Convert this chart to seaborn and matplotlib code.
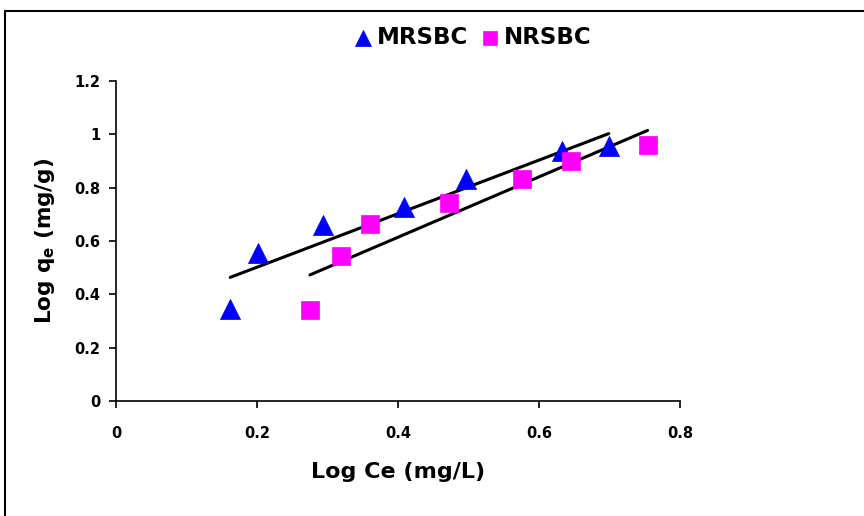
import numpy as np
import pandas as pd
import matplotlib
matplotlib.use("Agg")
import matplotlib.pyplot as plt
import seaborn as sns
from matplotlib.patches import Rectangle

# Data
mr_x = [0.162, 0.202, 0.293, 0.409, 0.497, 0.633, 0.699]
mr_y = [0.346, 0.556, 0.660, 0.727, 0.831, 0.937, 0.956]
nr_x = [0.275, 0.319, 0.360, 0.473, 0.576, 0.645, 0.754]
nr_y = [0.341, 0.544, 0.662, 0.741, 0.834, 0.899, 0.959]
series = ["MRSBC", "NRSBC"]
x_ticks = [0, 0.2, 0.4, 0.6, 0.8]
y_ticks = [0, 0.2, 0.4, 0.6, 0.8, 1.0, 1.2]
x_tick_labels = ["0", "0.2", "0.4", "0.6", "0.8"]
y_tick_labels = ["0", "0.2", "0.4", "0.6", "0.8", "1", "1.2"]

df = pd.DataFrame({
    "x": mr_x + nr_x,
    "y": mr_y + nr_y,
    "series": [series[0]] * len(mr_x) + [series[1]] * len(nr_x),
})

sns.set_style("ticks")
plt.rcParams["font.family"] = ["DejaVu Sans"]
plt.rcParams["font.weight"] = "bold"
plt.rcParams["mathtext.default"] = "regular"
plt.rcParams["text.color"] = "black"
plt.rcParams["axes.labelcolor"] = "black"
plt.rcParams["xtick.color"] = "black"
plt.rcParams["ytick.color"] = "black"

fig = plt.figure(figsize=(8.64, 5.16), dpi=100)
ax = fig.add_axes([116 / 864, 1 - 401 / 516, (680 - 116) / 864, (401 - 81) / 516])

# trendlines (linear regression over each series' data range)
for s in series:
    sub = df[df.series == s]
    sns.regplot(data=sub, x="x", y="y", scatter=False, ci=None, ax=ax,
                truncate=True, line_kws={"color": "black", "lw": 2.2, "zorder": 3})

palette = {"MRSBC": "#0000FF", "NRSBC": "#FF00FF"}
markers = {"MRSBC": "^", "NRSBC": "s"}
sizes_map = {"MRSBC": 210, "NRSBC": 150}
for s in series:
    sub = df[df.series == s]
    sns.scatterplot(data=sub, x="x", y="y", color=palette[s], marker=markers[s],
                    s=sizes_map[s], edgecolor=palette[s], linewidth=0.5, ax=ax,
                    label=s, zorder=4)

ax.set_xlim(0, 0.8)
ax.set_ylim(0, 1.2)
ax.set_xticks(x_ticks)
ax.set_xticklabels(x_tick_labels)
ax.set_yticks(y_ticks)
ax.set_yticklabels(y_tick_labels)
ax.tick_params(axis="both", direction="out", length=5, width=1.2, color="black",
               labelsize=10.5, labelcolor="black")
ax.tick_params(axis="x", pad=13)
ax.tick_params(axis="y", pad=6)
for lab in ax.get_xticklabels() + ax.get_yticklabels():
    lab.set_fontweight("bold")

sns.despine(ax=ax)
for sp in ["left", "bottom"]:
    ax.spines[sp].set_linewidth(1.2)
    ax.spines[sp].set_color("black")

ax.set_xlabel("Log Ce (mg/L)", fontsize=16, fontweight="bold", labelpad=15, color="black")
ax.set_ylabel(r"Log q$_\mathbf{e}$ (mg/g)", fontsize=15.5, fontweight="bold", labelpad=13,
              color="black")

handles, labels = ax.get_legend_handles_labels()
leg = fig.legend(handles, labels, loc="center", bbox_to_anchor=(472 / 864, 1 - 38 / 516),
                 ncol=2, frameon=False, handletextpad=0.15, columnspacing=0.5,
                 prop={"weight": "bold", "size": 16.5}, markerscale=0.8, handlelength=0.9)
for t in leg.get_texts():
    t.set_color("black")
if ax.get_legend():
    ax.get_legend().remove()

# outer frame
fig.patches.append(Rectangle((5 / 864, -0.1), 1.2, 1 - 11 / 516 + 0.1,
                             transform=fig.transFigure, fill=False,
                             edgecolor="black", lw=1.5, zorder=10))

fig.savefig("out.png", dpi=100)
